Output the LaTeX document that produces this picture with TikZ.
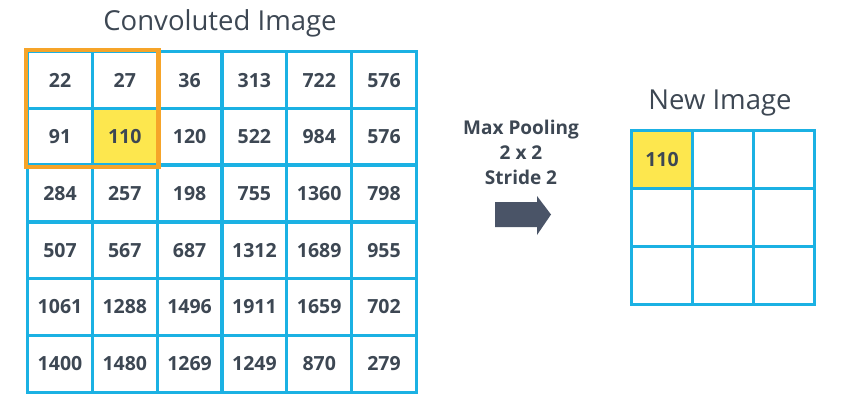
\documentclass[tikz,border=0pt]{standalone}
\usepackage{fontspec}
\setmainfont{Open Sans}
\definecolor{gridblue}{HTML}{1BB1E3}
\definecolor{poolorange}{HTML}{F6A429}
\definecolor{maxyellow}{HTML}{FDE74E}
\definecolor{txt}{HTML}{3D4753}
\definecolor{arrowc}{HTML}{4A5467}
\begin{document}
\begin{tikzpicture}[x=1pt,y=-1pt,
  cellbox/.style={draw=gridblue,line width=3pt,minimum width=65pt,minimum height=57.3pt,inner sep=0pt,anchor=north west,text=txt,font=\fontsize{19.5}{19.5}\selectfont\bfseries},
  newbox/.style={draw=gridblue,line width=3pt,minimum width=61pt,minimum height=58pt,inner sep=0pt,anchor=north west,text=txt,font=\fontsize{19.5}{19.5}\selectfont\bfseries},
  titletext/.style={text=txt,font=\fontsize{27.5}{27.5}\selectfont},
  optext/.style={text=txt,align=center,font=\fontsize{19}{25}\selectfont\bfseries}]
\useasboundingbox (0,0) rectangle (846,413);
% left grid
\foreach \r/\rowvals in {0/{22,27,36,313,722,576},1/{91,110,120,522,984,576},2/{284,257,198,755,1360,798},3/{507,567,687,1312,1689,955},4/{1061,1288,1496,1911,1659,702},5/{1400,1480,1269,1249,870,279}}{
  \foreach \v [count=\c from 0] in \rowvals {
    \ifnum\r=1 \ifnum\c=1
      \node[cellbox,fill=maxyellow] (c-\r-\c) at ({26+64.8*\c},{50+56.7*\r}) {\v};
    \else
      \node[cellbox] (c-\r-\c) at ({26+64.8*\c},{50+56.7*\r}) {\v};
    \fi\else
      \node[cellbox] (c-\r-\c) at ({26+64.8*\c},{50+56.7*\r}) {\v};
    \fi
  }
}
\draw[poolorange,line width=4.8pt] (c-0-0.north west) rectangle (c-1-1.south east);
\node[titletext] (convtitle) at (220,23) {Convoluted Image};
% operation text and arrow
\node[optext] (optxt) at (521,152) {Max Pooling\\2 x 2\\Stride 2};
\coordinate (arrstart) at (495,214.5);
\fill[arrowc] (arrstart) ++(0,-12.5) -- ++(42,0) -- ++(0,-6) -- (551,214.5) -- (537,235) -- (537,227) -- (495,227) -- cycle;
% right grid
\foreach \r in {0,1,2}{
  \foreach \c in {0,1,2}{
    \node[newbox] (n-\r-\c) at ({630+61.2*\c},{129+58*\r}) {};
  }
}
\node[newbox,fill=maxyellow] (n-0-0) at (630,129) {110};
\node[titletext] (newtitle) at (720,103) {New Image};
\end{tikzpicture}
\end{document}
